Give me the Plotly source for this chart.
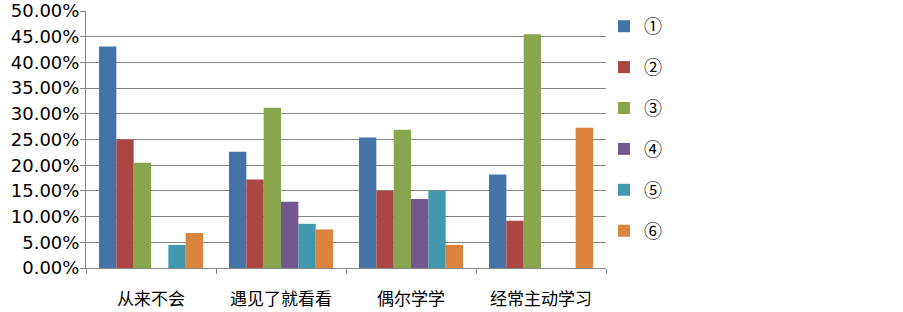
import plotly.graph_objects as go

categories = ["从来不会", "遇见了就看看", "偶尔学学", "经常主动学习"]
series_names = ["①", "②", "③", "④", "⑤", "⑥"]
s1 = [0.431, 0.226, 0.254, 0.182]
s2 = [0.250, 0.172, 0.150, 0.092]
s3 = [0.205, 0.312, 0.269, 0.455]
s4 = [0.0, 0.129, 0.134, 0.0]
s5 = [0.045, 0.086, 0.150, 0.0]
s6 = [0.068, 0.075, 0.045, 0.273]
series_values = [s1, s2, s3, s4, s5, s6]
colors = ["#4572A7", "#AA4643", "#89A54E", "#71588F", "#4198AF", "#DB843D"]

fig = go.Figure()
for i, (name, vals) in enumerate(zip(series_names, series_values)):
    fig.add_trace(go.Bar(
        x=categories, y=vals, name=name,
        marker=dict(color=colors[i], line=dict(width=0)),
        legendgroup=f"g{i}",
    ))

W, H = 903, 312
fig.update_layout(
    width=W, height=H,
    margin=dict(l=86, r=297, t=11, b=44, autoexpand=False),
    plot_bgcolor="white", paper_bgcolor="white",
    barmode="group", bargap=0.2, bargroupgap=0,
    font=dict(family="Noto Sans CJK SC, DejaVu Sans", color="black"),
    legend=dict(
        x=604 / W, y=1 - 8 / H, xref="container", yref="container",
        xanchor="left", yanchor="top",
        font=dict(size=18, family="Noto Sans CJK SC"),
        tracegroupgap=14.5, itemwidth=30,
        bgcolor="rgba(0,0,0,0)",
        maxheight=1.0,
    ),
    xaxis=dict(
        showline=True, linecolor="#868686", linewidth=1,
        ticks="outside", tickson="boundaries", ticklen=5, tickcolor="#868686",
        tickfont=dict(size=17, family="Noto Sans CJK SC"),
        ticklabelstandoff=16,
        showgrid=False, automargin=False,
    ),
    yaxis=dict(
        range=[0, 0.5], dtick=0.05, tickformat=".2%",
        showline=True, linecolor="#868686", linewidth=1,
        ticks="outside", ticklen=5, tickcolor="#868686",
        gridcolor="#868686", gridwidth=1,
        tickfont=dict(size=18, family="DejaVu Sans"),
        ticklabeloverflow="allow", ticklabelstandoff=-3,
        zeroline=False, automargin=False,
    ),
)

fig.write_html("out.html", config={"displayModeBar": False},
               post_script="document.body.style.margin='0';")
